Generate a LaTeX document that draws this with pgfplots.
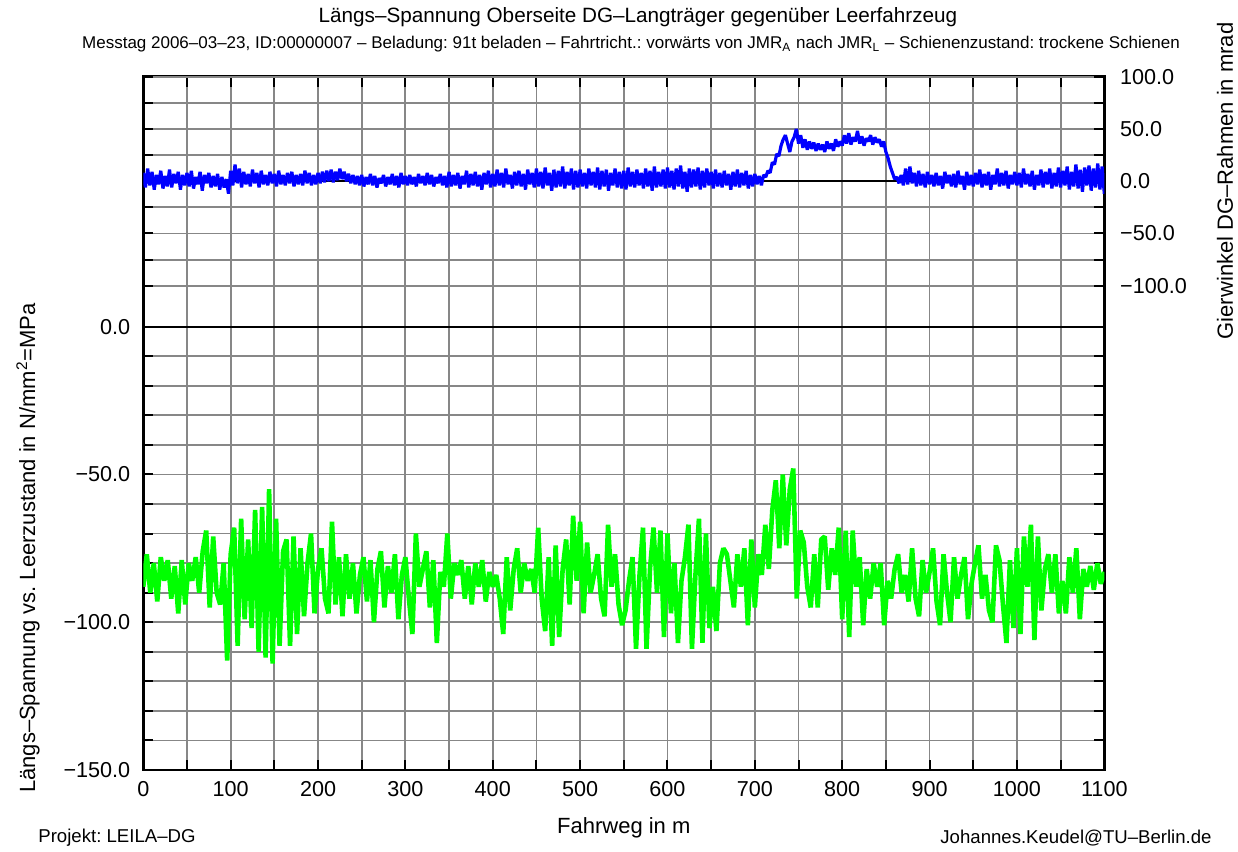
\documentclass[border=0pt]{standalone}
\usepackage{fontspec}
\setmainfont{Liberation Sans}
\usepackage{pgfplots}
\usepackage{pgfplotstable}
\pgfplotsset{compat=1.18}
\frenchspacing

\definecolor{gridgray}{RGB}{135,135,135}
\definecolor{sigblue}{RGB}{0,0,255}
\definecolor{siggreen}{RGB}{0,255,0}

% Laengs-Spannung in MPa, alle 4 m (0 ... 1100 m)
\pgfplotstableread[row sep=\\]{
y\\
-88\\ -77\\ -90\\ -80\\ -93\\ -78\\ -86\\ -79\\ -92\\ -81\\
-97\\ -79\\ -94\\ -80\\ -86\\ -78\\ -90\\ -76\\ -69\\ -95\\
-71\\ -90\\ -94\\ -80\\ -113\\ -77\\ -68\\ -108\\ -65\\ -99\\
-72\\ -102\\ -62\\ -110\\ -61\\ -112\\ -55\\ -114\\ -65\\ -108\\
-76\\ -72\\ -108\\ -71\\ -104\\ -75\\ -98\\ -80\\ -70\\ -97\\
-82\\ -75\\ -92\\ -97\\ -66\\ -94\\ -78\\ -98\\ -77\\ -92\\
-80\\ -97\\ -84\\ -78\\ -93\\ -79\\ -100\\ -82\\ -76\\ -95\\
-81\\ -90\\ -77\\ -99\\ -84\\ -78\\ -92\\ -104\\ -70\\ -88\\
-82\\ -76\\ -95\\ -79\\ -107\\ -83\\ -88\\ -70\\ -92\\ -80\\
-84\\ -79\\ -92\\ -81\\ -94\\ -80\\ -88\\ -79\\ -93\\ -83\\
-88\\ -84\\ -92\\ -104\\ -78\\ -96\\ -82\\ -75\\ -90\\ -80\\
-86\\ -82\\ -90\\ -68\\ -92\\ -103\\ -78\\ -108\\ -74\\ -105\\
-82\\ -72\\ -94\\ -64\\ -86\\ -66\\ -97\\ -73\\ -90\\ -84\\
-77\\ -92\\ -98\\ -67\\ -88\\ -77\\ -94\\ -101\\ -96\\ -86\\
-78\\ -109\\ -84\\ -68\\ -109\\ -82\\ -68\\ -90\\ -69\\ -105\\
-70\\ -97\\ -80\\ -107\\ -86\\ -78\\ -67\\ -109\\ -84\\ -65\\
-107\\ -70\\ -102\\ -88\\ -103\\ -80\\ -75\\ -77\\ -86\\ -95\\
-77\\ -88\\ -75\\ -101\\ -72\\ -95\\ -77\\ -84\\ -67\\ -82\\
-62\\ -52\\ -75\\ -50\\ -74\\ -55\\ -48\\ -92\\ -69\\ -73\\
-88\\ -95\\ -77\\ -95\\ -72\\ -71\\ -89\\ -75\\ -84\\ -68\\
-99\\ -69\\ -105\\ -69\\ -88\\ -78\\ -101\\ -82\\ -92\\ -80\\
-88\\ -80\\ -101\\ -86\\ -92\\ -82\\ -77\\ -90\\ -84\\ -93\\
-75\\ -92\\ -98\\ -79\\ -90\\ -83\\ -75\\ -93\\ -101\\ -77\\
-90\\ -100\\ -78\\ -92\\ -84\\ -78\\ -99\\ -87\\ -80\\ -74\\
-92\\ -84\\ -96\\ -100\\ -74\\ -79\\ -94\\ -107\\ -79\\ -102\\
-75\\ -104\\ -71\\ -88\\ -67\\ -106\\ -71\\ -96\\ -82\\ -77\\
-90\\ -77\\ -97\\ -86\\ -97\\ -78\\ -90\\ -75\\ -99\\ -82\\
-88\\ -81\\ -89\\ -80\\ -87\\ -83\\
}\spannung

% Gierwinkel in mrad, alle 2.5 m (0 ... 1100 m)
\pgfplotstableread[row sep=\\]{
y\\
8\\ -6\\ 12\\ -4\\ 9\\ -8\\ 6\\ -3\\ 10\\ -7\\ 5\\ -5\\ 11\\ -6\\ 7\\ -2\\ 9\\ -8\\ 6\\ -4\\
8\\ -5\\ 10\\ -7\\ 4\\ -3\\ 9\\ -9\\ 6\\ -2\\ 8\\ -6\\ 5\\ -5\\ 7\\ -8\\ 4\\ -6\\ 2\\ -12\\
10\\ -4\\ 16\\ -2\\ 12\\ -6\\ 9\\ -3\\ 7\\ -5\\ 11\\ -2\\ 8\\ -6\\ 10\\ -3\\ 6\\ -4\\ 9\\ -2\\
7\\ -5\\ 10\\ -3\\ 6\\ -4\\ 8\\ -2\\ 9\\ -5\\ 6\\ -3\\ 7\\ -4\\ 10\\ -2\\ 8\\ -4\\ 6\\ -3\\
8\\ -2\\ 9\\ -1\\ 10\\ 0\\ 11\\ -1\\ 9\\ 1\\ 12\\ 2\\ 9\\ 0\\ 7\\ -2\\ 6\\ -3\\ 5\\ -4\\
6\\ -5\\ 4\\ -3\\ 7\\ -4\\ 5\\ -6\\ 3\\ -2\\ 6\\ -5\\ 4\\ -3\\ 7\\ -4\\ 5\\ -6\\ 8\\ -3\\
5\\ -4\\ 6\\ -3\\ 4\\ -5\\ 7\\ -2\\ 5\\ -4\\ 8\\ -3\\ 6\\ -5\\ 4\\ -2\\ 7\\ -4\\ 5\\ -6\\
9\\ -5\\ 6\\ -4\\ 8\\ -7\\ 5\\ -3\\ 10\\ -6\\ 7\\ -4\\ 9\\ -5\\ 6\\ -8\\ 8\\ -3\\ 10\\ -6\\
7\\ -5\\ 11\\ -4\\ 8\\ -6\\ 12\\ -3\\ 6\\ -7\\ 9\\ -4\\ 10\\ -5\\ 7\\ -8\\ 11\\ -3\\ 8\\ -6\\
12\\ -5\\ 9\\ -7\\ 13\\ -4\\ 8\\ -9\\ 11\\ -6\\ 10\\ -5\\ 14\\ -7\\ 9\\ -4\\ 12\\ -8\\ 10\\ -6\\
11\\ -5\\ 8\\ -7\\ 12\\ -4\\ 9\\ -6\\ 13\\ -8\\ 10\\ -5\\ 11\\ -9\\ 8\\ -4\\ 12\\ -6\\ 9\\ -7\\
10\\ -8\\ 13\\ -5\\ 9\\ -6\\ 11\\ -4\\ 8\\ -7\\ 12\\ -5\\ 10\\ -9\\ 14\\ -6\\ 9\\ -5\\ 11\\ -7\\
13\\ -6\\ 10\\ -8\\ 12\\ -5\\ 15\\ -7\\ 9\\ -10\\ 12\\ -6\\ 11\\ -5\\ 13\\ -8\\ 10\\ -6\\ 12\\ -4\\
9\\ -7\\ 11\\ -5\\ 8\\ -6\\ 10\\ -4\\ 7\\ -8\\ 9\\ -5\\ 11\\ -6\\ 8\\ -4\\ 10\\ -7\\ 6\\ -5\\
7\\ -3\\ 5\\ -4\\ 6\\ 4\\ 10\\ 8\\ 18\\ 16\\ 26\\ 24\\ 34\\ 40\\ 44\\ 36\\ 28\\ 38\\ 42\\ 50\\
36\\ 44\\ 32\\ 40\\ 30\\ 38\\ 31\\ 37\\ 29\\ 36\\ 30\\ 35\\ 28\\ 38\\ 31\\ 36\\ 29\\ 40\\ 33\\ 38\\
34\\ 44\\ 36\\ 46\\ 35\\ 42\\ 38\\ 48\\ 36\\ 43\\ 34\\ 41\\ 38\\ 44\\ 35\\ 42\\ 37\\ 40\\ 33\\ 38\\
28\\ 22\\ 14\\ 8\\ 2\\ 4\\ -2\\ 6\\ -4\\ 12\\ -3\\ 14\\ -2\\ 8\\ -5\\ 10\\ -4\\ 7\\ -6\\ 9\\
-3\\ 6\\ -5\\ 8\\ -4\\ 5\\ -7\\ 9\\ -2\\ 6\\ -5\\ 7\\ -6\\ 10\\ -3\\ 5\\ -8\\ 9\\ -4\\ 6\\
-5\\ 8\\ -3\\ 11\\ -6\\ 7\\ -4\\ 9\\ -8\\ 6\\ -3\\ 12\\ -5\\ 8\\ -4\\ 10\\ -7\\ 6\\ -3\\ 9\\
-4\\ 8\\ -6\\ 12\\ -3\\ 7\\ -5\\ 10\\ -8\\ 6\\ -4\\ 11\\ -6\\ 9\\ -3\\ 12\\ -7\\ 8\\ -5\\ 13\\
-6\\ 10\\ -4\\ 14\\ -8\\ 9\\ -5\\ 16\\ -7\\ 11\\ -10\\ 13\\ -4\\ 15\\ -9\\ 12\\ -6\\ 17\\ -8\\ 14\\ -12\\
}\gierwinkel

\pgfplotsset{
  laengsachse/.style={
    scale only axis, width=480.5pt, height=346.7pt,
    xmin=0, xmax=1100,
    axis line style={black, line width=1.3pt},
    tick style={black, line width=1pt},
    major tick length=5pt, minor tick length=5pt,
    grid style={gridgray, line width=0.9pt},
    major grid style={gridgray, line width=0.9pt},
    minor grid style={gridgray, line width=0.9pt},
    /pgf/number format/assume math mode=true,
    /pgf/number format/1000 sep={},
    label style={font=\fontsize{11}{13}\selectfont},
  },
}

\begin{document}
\begin{tikzpicture}[font=\fontsize{10.8}{13}\selectfont]
\path[use as bounding box] (-71.65pt,-41pt) rectangle (547.35pt,385pt);

\begin{axis}[
  laengsachse,
  ymin=-150, ymax=84.6,
  xtick={0,100,...,1100}, minor xtick={50,150,...,1050},
  ytick={-150,-100,-50}, yticklabels={−150.0,−100.0,−50.0},
  minor ytick={-140,-130,...,-10},
  extra y ticks={0}, extra y tick labels={0.0},
  extra y tick style={grid=major, major grid style={black, line width=1pt}},
  grid=both,
  xticklabel style={yshift=-2pt},
  yticklabel style={xshift=-3pt},
  xlabel={Fahrweg in m},
  xlabel style={at={(axis description cs:0.5,-0.0836)}, anchor=center},
  ylabel={Längs–Spannung vs. Leerzustand in N/mm\textsuperscript{2}=MPa},
  ylabel style={at={(axis description cs:-0.1199,0.32)}, anchor=center},
]
\addplot[siggreen, line width=2.3pt, line join=bevel] table[x expr=\coordindex*4, y=y] {\spannung};
\end{axis}

\begin{axis}[
  laengsachse,
  ymin=-563, ymax=100,
  xtick=\empty,
  axis line style={draw=none},
  yticklabel pos=right,
  ytick={-100,-50,50,100}, yticklabels={−100.0,−50.0,50.0,100.0},
  minor ytick={-75,-25,25,75},
  extra y ticks={0}, extra y tick labels={0.0},
  extra y tick style={grid=major, major grid style={black, line width=1pt}},
  ymajorgrids, yminorgrids,
  yticklabel style={xshift=4.4pt},
  ylabel={Gierwinkel DG–Rahmen in mrad},
  ylabel style={at={(axis description cs:1.1256,0.8496)}, anchor=center},
]
\addplot[sigblue, line width=1.6pt, line join=bevel] table[x expr=\coordindex*2.5, y=y] {\gierwinkel};
\end{axis}

\node[font=\fontsize{10.35}{12}\selectfont] at (247.35pt,376.5pt)
  {Längs–Spannung Oberseite DG–Langträger gegenüber Leerfahrzeug};
\node[font=\fontsize{8.5}{10}\selectfont] at (243.85pt,363pt)
  {Messtag 2006–03–23, ID:00000007 – Beladung: 91t beladen – Fahrtricht.: vorwärts von JMR\textsubscript{A} nach JMR\textsubscript{L} – Schienenzustand: trockene Schienen};
\node[anchor=west, inner sep=0pt, font=\fontsize{9.3}{11}\selectfont] at (-52.65pt,-34pt) {Projekt: LEILA–DG};
\node[anchor=east, inner sep=0pt, font=\fontsize{9.3}{11}\selectfont] at (534.35pt,-34pt) {Johannes.Keudel@TU–Berlin.de};
\end{tikzpicture}
\end{document}
